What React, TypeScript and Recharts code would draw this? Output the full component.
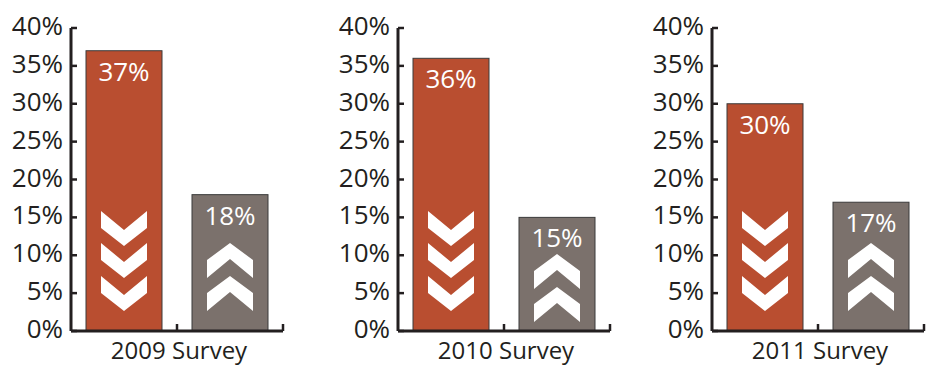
import { BarChart, Bar, XAxis, YAxis, Cell, LabelList, Label } from 'recharts';

const surveys = ['2009 Survey', '2010 Survey', '2011 Survey'];
const decreaseShare = [37, 36, 30];
const increaseShare = [18, 15, 17];
const yTicks = [0, 5, 10, 15, 20, 25, 30, 35, 40];
const barKinds = ['decrease', 'increase'];

const ORANGE = '#b94e30';
const GRAY = '#7b716c';
const INK = '#231f20';
const FONT = '"Open Sans", "DejaVu Sans", sans-serif';

// layout of the three small charts
const PANEL_LEFT = [0, 327, 641];
const PANEL_W = 290;
const PLOT_W = 212;
// how far above the baseline the chevrons start (px)
const DOWN_ARROW_LIFT = [120, 88, 55];
const UP_ARROW_LIFT = [[88, 55], [77, 44], [88, 55]];

const downChevron = (cx: number, t: number) =>
  `${cx - 23},${t} ${cx},${t + 19} ${cx + 23},${t} ${cx + 23},${t + 17} ${cx},${t + 35} ${cx - 23},${t + 17}`;

const upChevron = (cx: number, t: number) =>
  `${cx},${t} ${cx + 23},${t + 17} ${cx + 23},${t + 35} ${cx},${t + 16} ${cx - 23},${t + 35} ${cx - 23},${t + 17}`;

function makeShape(panel: number) {
  return (props: any) => {
    const { x, y, width, height, fill, payload } = props;
    const cx = x + width / 2;
    const bottom = y + height;
    const arrows =
      payload.kind === 'decrease'
        ? DOWN_ARROW_LIFT.map((lift) => downChevron(cx, bottom - lift))
        : UP_ARROW_LIFT[panel].map((lift) => upChevron(cx, bottom - lift));
    return (
      <g>
        <rect x={x} y={y} width={width} height={height} fill={fill} stroke="#3b3b3b" strokeWidth={1} />
        {arrows.map((pts, i) => (
          <polygon key={i} points={pts} fill="#ffffff" />
        ))}
      </g>
    );
  };
}

const YTick = (props: any) => {
  const { x, y, payload } = props;
  return (
    <g>
      <line x1={x + 8} y1={y} x2={x + 14} y2={y} stroke={INK} strokeWidth={2.5} />
      <text x={x} y={y + 7} textAnchor="end" fill={INK} fontSize={26} fontFamily={FONT}>
        {payload.value}%
      </text>
    </g>
  );
};

const XTick = (props: any) => {
  const { x, y } = props;
  const bx = x + PLOT_W / 4;
  return <line x1={bx} y1={y} x2={bx} y2={y - 7} stroke={INK} strokeWidth={2.5} />;
};

const ValueLabel = (props: any) => {
  const { x, y, width, value } = props;
  return (
    <text x={x + width / 2} y={y + 30} textAnchor="middle" fill="#ffffff" fontSize={26} fontFamily={FONT}>
      {value}%
    </text>
  );
};

function SurveyPanel({ panel }: { panel: number }) {
  const data = barKinds.map((kind, i) => ({
    kind,
    value: i === 0 ? decreaseShare[panel] : increaseShare[panel],
  }));
  return (
    <div style={{ position: 'absolute', left: PANEL_LEFT[panel], top: 0 }}>
      <BarChart width={PANEL_W} height={366} data={data} margin={{ top: 28, right: 7, left: 0, bottom: 0 }} barSize={76}>
        <YAxis
          width={71}
          domain={[0, 40]}
          ticks={yTicks}
          interval={0}
          tickSize={6}
          tickMargin={2}
          tickLine={false}
          axisLine={{ stroke: INK, strokeWidth: 3 }}
          tick={<YTick />}
        />
        <XAxis
          dataKey="kind"
          height={35}
          tickSize={0}
          tickMargin={0}
          tickLine={false}
          interval={0}
          axisLine={{ stroke: INK, strokeWidth: 3 }}
          tick={<XTick />}
        >
          <Label
            content={(p: any) => {
              const vb = p.viewBox;
              return (
                <text x={vb.x + vb.width / 2 + 2} y={359} textAnchor="middle" fill={INK} fontSize={24} fontFamily={FONT}>
                  {surveys[panel]}
                </text>
              );
            }}
          />
        </XAxis>
        <Bar dataKey="value" isAnimationActive={false} shape={makeShape(panel)}>
          {data.map((d) => (
            <Cell key={d.kind} fill={d.kind === 'decrease' ? ORANGE : GRAY} />
          ))}
          <LabelList dataKey="value" content={<ValueLabel />} />
        </Bar>
      </BarChart>
    </div>
  );
}

export default function App() {
  return (
    <div style={{ position: 'absolute', left: 0, top: 0, width: 930, height: 366, background: '#ffffff' }}>
      {surveys.map((_, i) => (
        <SurveyPanel key={i} panel={i} />
      ))}
    </div>
  );
}
